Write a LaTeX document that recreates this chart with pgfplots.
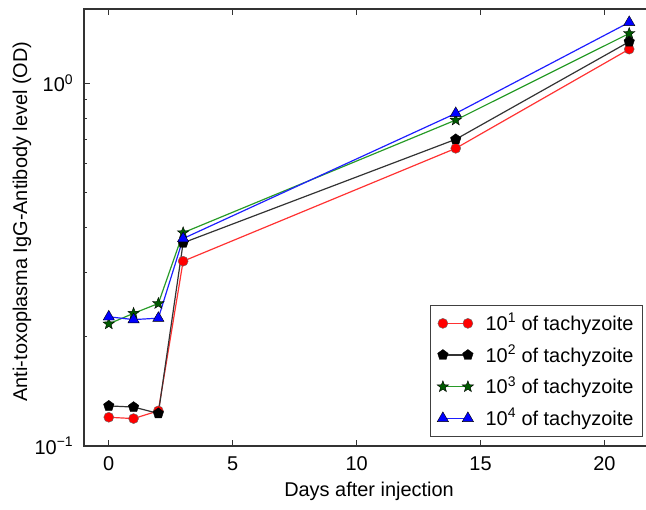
\documentclass[border=0pt]{standalone}
\usepackage{fontspec}
\setmainfont{Liberation Sans}
\usepackage{pgfplots}
\pgfplotsset{compat=1.18}

\pgfdeclareplotmark{fstar}{%
  \pgfpathmoveto{\pgfpointpolar{90}{\pgfplotmarksize}}%
  \pgfpathlineto{\pgfpointpolar{126}{0.42\pgfplotmarksize}}%
  \pgfpathlineto{\pgfpointpolar{162}{\pgfplotmarksize}}%
  \pgfpathlineto{\pgfpointpolar{198}{0.42\pgfplotmarksize}}%
  \pgfpathlineto{\pgfpointpolar{234}{\pgfplotmarksize}}%
  \pgfpathlineto{\pgfpointpolar{270}{0.42\pgfplotmarksize}}%
  \pgfpathlineto{\pgfpointpolar{306}{\pgfplotmarksize}}%
  \pgfpathlineto{\pgfpointpolar{342}{0.42\pgfplotmarksize}}%
  \pgfpathlineto{\pgfpointpolar{18}{\pgfplotmarksize}}%
  \pgfpathlineto{\pgfpointpolar{54}{0.42\pgfplotmarksize}}%
  \pgfpathclose
  \pgfusepathqfillstroke
}

\definecolor{mred}{RGB}{255,50,50}
\definecolor{mgreen}{RGB}{40,155,40}
\definecolor{mdgreen}{RGB}{0,90,0}
\definecolor{mblue}{RGB}{30,30,255}

\begin{document}
\fontsize{20}{24}\selectfont
\begin{tikzpicture}
\begin{axis}[
  name=ax,
  scale only axis,
  width=570bp, height=437bp,
  xmin=-1, xmax=22,
  ymode=log, ymin=0.1, ymax=1.6,
  xtick={0,5,10,15,20},
  ytick={0.1,1},
  yticklabels={10\textsuperscript{−1},10\textsuperscript{0}},
  minor ytick={0.2,0.3,0.4,0.5,0.6,0.7,0.8,0.9,2,3},
  tick align=inside,
  major tick length=6bp,
  minor tick length=3.5bp,
  every tick/.style={black!80, line width=0.8bp},
  axis line style={black!80, line width=1.3bp},
  xticklabel style={font=\fontsize{20}{24}\selectfont, yshift=-4bp},
  yticklabel style={font=\fontsize{20}{24}\selectfont, xshift=-4bp},
  /pgf/number format/assume math mode=true,
  xlabel={Days after injection},
  ylabel={Anti-toxoplasma IgG-Antibody level (OD)},
  xlabel style={at={(axis description cs:0.5,0)}, anchor=center, yshift=-45bp},
  ylabel style={at={(axis description cs:0,0.5)}, anchor=center, yshift=62bp, xshift=6bp},
  legend style={at={(1,0)}, anchor=south east, xshift=-11bp, yshift=9bp,
    draw=black!75, line width=1.2bp, fill=white,
    font=\fontsize{20}{24}\selectfont,
    row sep=7.5bp, column sep=10bp, inner xsep=7bp, inner ysep=6bp,
    cells={anchor=west}},
  legend image code/.code={%
    \draw[#1] plot coordinates {(0bp,0bp) (25bp,0bp)};},
  every axis plot/.append style={line width=1.2bp},
]
\addplot[color=mred, mark=*, mark size=5bp, mark options={fill=red, draw=black!60, line width=0.4bp}]
  coordinates {(0,0.120) (1,0.119) (2,0.125) (3,0.323) (14,0.661) (21,1.24)};
\addlegendentry{10\textsuperscript{1} of tachyzoite}
\addplot[color=black!80, mark=pentagon*, mark size=5.5bp, mark options={fill=black, draw=black, line width=0.4bp}]
  coordinates {(0,0.129) (1,0.128) (2,0.123) (3,0.363) (14,0.700) (21,1.30)};
\addlegendentry{10\textsuperscript{2} of tachyzoite}
\addplot[color=mgreen, mark=fstar, mark size=6bp, mark options={fill=mdgreen, draw=black, line width=0.4bp}]
  coordinates {(0,0.217) (1,0.232) (2,0.247) (3,0.387) (14,0.791) (21,1.37)};
\addlegendentry{10\textsuperscript{3} of tachyzoite}
\addplot[color=mblue, mark=triangle*, mark size=6.5bp, mark options={fill=blue, draw=black, line width=0.4bp}]
  coordinates {(0,0.227) (1,0.223) (2,0.225) (3,0.373) (14,0.825) (21,1.47)};
\addlegendentry{10\textsuperscript{4} of tachyzoite}
\end{axis}
\pgfresetboundingbox
\path[use as bounding box] ([shift={(-84bp,-64bp)}]ax.south west) rectangle ([shift={(562bp,446bp)}]ax.south west);
\end{tikzpicture}
\end{document}
